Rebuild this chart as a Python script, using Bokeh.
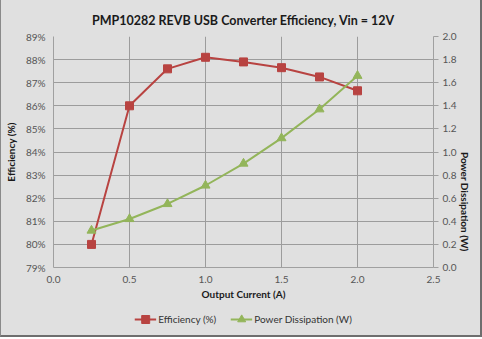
import math
from bokeh.plotting import figure
from bokeh.layouts import column
from bokeh.models import (Range1d, LinearAxis, FixedTicker, PrintfTickFormatter,
                          Legend, LegendItem, ColumnDataSource)
from bokeh.embed import file_html
from bokeh.resources import INLINE

current = [0.25, 0.5, 0.75, 1.0, 1.25, 1.5, 1.75, 2.0]
efficiency = [80.0, 86.0, 87.6, 88.1, 87.9, 87.65, 87.25, 86.65]
power = [0.32, 0.42, 0.55, 0.71, 0.90, 1.12, 1.37, 1.66]
x_ticks = [0.0, 0.5, 1.0, 1.5, 2.0, 2.5]
eff_ticks = list(range(79, 90))
pw_ticks = [0.0, 0.2, 0.4, 0.6, 0.8, 1.0, 1.2, 1.4, 1.6, 1.8, 2.0]

FONT = "Lato"
BG = "#e0e0e0"
RED = "#b84341"
GREEN = "#93b55a"

src = ColumnDataSource(dict(x=current, eff=efficiency, pw=power))

p = figure(width=479, height=303, output_backend="svg", toolbar_location=None,
           x_range=Range1d(0, 2.5), y_range=Range1d(79, 89),
           min_border_left=52, min_border_right=47, min_border_top=36,
           min_border_bottom=36)
p.background_fill_color = BG
p.border_fill_color = BG
p.outline_line_color = None

p.title.text = "PMP10282 REVB USB Converter Efficiency, Vin = 12V"
p.title.align = "center"
p.title.text_font = FONT
p.title.text_font_size = "12.5px"
p.title.text_font_style = "bold"
p.title.text_color = "#1a1a1a"
p.title.offset = 0
p.title.standoff = 17

p.extra_y_ranges = {"pw": Range1d(0, 2.0)}

# x axis
p.xaxis.ticker = FixedTicker(ticks=x_ticks)
p.xaxis.formatter = PrintfTickFormatter(format="%.1f")
p.xaxis.axis_label = "Output Current (A)"
p.xaxis.axis_line_color = "#a0a0a0"
p.xaxis.major_tick_line_color = None
p.xaxis.minor_tick_line_color = None
p.xaxis.major_tick_out = 0
p.xaxis.major_tick_in = 0

# left axis
p.yaxis.ticker = FixedTicker(ticks=eff_ticks)
p.yaxis.formatter = PrintfTickFormatter(format="%d%%")
p.yaxis.axis_label = "Efficiency (%)"
p.yaxis.axis_line_color = "#a0a0a0"
p.yaxis.major_tick_line_color = None
p.yaxis.minor_tick_line_color = None
p.yaxis.major_tick_out = 0
p.yaxis.major_tick_in = 0

ra = LinearAxis(y_range_name="pw", ticker=FixedTicker(ticks=pw_ticks),
                formatter=PrintfTickFormatter(format="%.1f"),
                axis_label="Power Dissipation (W)")
ra.axis_line_color = "#a0a0a0"
ra.major_tick_line_color = "#a0a0a0"
ra.major_tick_out = 5
ra.major_tick_in = 0
ra.minor_tick_line_color = None
ra.axis_label_orientation = -math.pi / 2
p.add_layout(ra, "right")

for ax in [p.xaxis[0], p.yaxis[0], ra]:
    ax.major_label_text_font = FONT
    ax.major_label_text_font_size = "10px"
    ax.major_label_text_color = "#555555"
    ax.axis_label_text_font = FONT
    ax.axis_label_text_font_size = "10px"
    ax.axis_label_text_font_style = "bold"
    ax.axis_label_text_color = "#1a1a1a"

p.xaxis.major_label_standoff = 8
p.xaxis.axis_label_standoff = 2
p.yaxis.major_label_standoff = 8
p.yaxis.axis_label_standoff = 6
ra.major_label_standoff = 4
ra.axis_label_standoff = 6

p.xgrid.ticker = FixedTicker(ticks=x_ticks)
p.ygrid.ticker = FixedTicker(ticks=eff_ticks)
p.xgrid.grid_line_color = "#9c9c9c"
p.ygrid.grid_line_color = "#9c9c9c"

p.line("x", "eff", source=src, line_color=RED, line_width=2)
p.scatter("x", "eff", source=src, marker="square", size=8,
          fill_color=RED, line_color=RED)
p.line("x", "pw", source=src, y_range_name="pw", line_color=GREEN, line_width=2)
p.scatter("x", "pw", source=src, y_range_name="pw", marker="triangle", size=9,
          fill_color=GREEN, line_color=GREEN)

# legend strip: same series drawn in a strip whose view range excludes the data
lg = figure(width=479, height=32, output_backend="svg", toolbar_location=None,
            x_range=Range1d(100, 101), y_range=Range1d(100, 101),
            min_border=0)
lg.axis.visible = False
lg.grid.visible = False
lg.background_fill_color = BG
lg.border_fill_color = BG
lg.outline_line_color = None
k1 = lg.line("x", "eff", source=src, line_color=RED, line_width=2)
k2 = lg.scatter("x", "eff", source=src, marker="square", size=8,
                fill_color=RED, line_color=RED)
k3 = lg.line("x", "pw", source=src, line_color=GREEN, line_width=2)
k4 = lg.scatter("x", "pw", source=src, marker="triangle", size=9,
                fill_color=GREEN, line_color=GREEN)

legend = Legend(items=[LegendItem(label="Efficiency (%)", renderers=[k1, k2]),
                       LegendItem(label="Power Dissipation (W)", renderers=[k3, k4])],
                orientation="horizontal", location="center")
legend.background_fill_alpha = 0
legend.border_line_color = None
legend.label_text_font = FONT
legend.label_text_font_size = "10px"
legend.label_text_color = "#333333"
legend.glyph_width = 22
legend.label_standoff = 2
legend.spacing = 14
legend.padding = 2
legend.margin = 0
lg.add_layout(legend)

layout = column(p, lg, spacing=0)
layout.styles = {"border-left": "1px solid #8a8a8a", "border-right": "2px solid #6e6e6e",
                 "border-bottom": "2px solid #6e6e6e", "background-color": BG}

open("out.html", "w").write(file_html(layout, INLINE))
